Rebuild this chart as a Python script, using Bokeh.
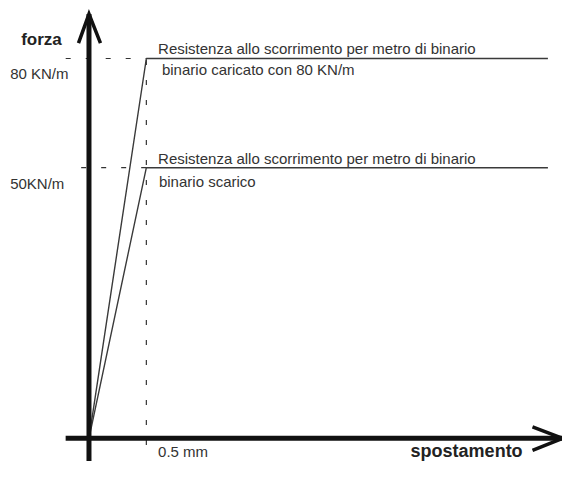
from bokeh.plotting import figure
from bokeh.models import Range1d
from bokeh.core.properties import value
from bokeh.embed import file_html
from bokeh.resources import INLINE

# ---- data (schematic diagram) ----
yield_disp = 0.5            # mm, displacement at which full resistance is reached
disp_end = 4.0              # mm, end of the plateau lines
level_labels = ["80 KN/m", "50KN/m"]
level_heights = [80, 57]    # drawn heights (schematic, as in the picture)
guide_start = [-0.203, -0.068]
curve_titles = ["Resistenza allo scorrimento per metro di binario",
                "Resistenza allo scorrimento per metro di binario"]
curve_subtitles = ["binario caricato con 80 KN/m", "binario scarico"]
x_tick_label = "0.5 mm"
x_label = "spostamento"
y_label = "forza"

# ---- layout ----
W, H = 562, 461
sx, sy = W / 578.0, H / 477.0
px_x = 118.0 * sx      # pixels per mm
px_y = 4.9125 * sy     # pixels per unit of force
ox, oy = 91 * sx, 453 * sy      # origin position on canvas
x0, x1 = -ox / px_x, (W - ox) / px_x
y0, y1 = -(H - oy) / px_y, oy / px_y

p = figure(width=W, height=H, x_range=Range1d(x0, x1), y_range=Range1d(y0, y1),
           output_backend="svg", toolbar_location=None,
           x_axis_type=None, y_axis_type=None, min_border=0,
           outline_line_color=None, background_fill_color="white",
           border_fill_color="white")

FONT = value("Liberation Sans")
INK = "#333333"

# dashed guides
for h, g in zip(level_heights, guide_start):
    p.line([g, yield_disp], [h, h], line_color=INK, line_width=1.2, line_dash="5 15")
p.line([yield_disp, yield_disp], [-7 / 4.9125, level_heights[0]], line_color=INK,
       line_width=1.2, line_dash="5 15")

# force-displacement curves
for h in level_heights:
    p.line([0, yield_disp, disp_end], [0, h, h], line_color="#3a3a3a", line_width=1.4)

# axes with open arrow heads
y_tip = 439 / 4.9125
x_tip = 487 / 118.0
AX = "#111111"
p.line([0, 0], [y0 - 5, y_tip], line_color=AX, line_width=5)
p.line([-24 / 118.0, x_tip], [0, 0], line_color=AX, line_width=5)
p.line([-10.5 / px_x, 0, 11.5 / px_x], [y_tip - 29 / px_y, y_tip, y_tip - 29 / px_y],
       line_color=AX, line_width=3.5, line_join="miter")
p.line([x_tip - 30 / px_x, x_tip, x_tip - 30 / px_x], [11.5 / px_y, 0, -12 / px_y],
       line_color=AX, line_width=3.5, line_join="miter")

# texts
reg = dict(text_font=FONT, text_font_size=value("15px"), text_color=INK,
           text_baseline="alphabetic")
bold = dict(text_font=FONT, text_color="#222222",
            text_font_style="bold", text_baseline="alphabetic")

DY = -5   # renderer places baselines a few pixels lower than requested

def ofx(v):
    return round(v * sx, 1)

def ofy(v):
    return round(v * sy + DY, 1)

p.text(x=[0, 0], y=level_heights, text=level_labels, x_offset=[ofx(-81)] * 2,
       y_offset=[ofy(21), ofy(22)], text_align="left", **reg)
p.text(x=[yield_disp] * 2, y=level_heights, text=curve_titles, x_offset=[ofx(12)] * 2,
       y_offset=[ofy(-5), ofy(-4)], text_align="left", **reg)
p.text(x=[yield_disp] * 2, y=level_heights, text=curve_subtitles,
       x_offset=[ofx(16), ofx(13)], y_offset=[ofy(17), ofy(19)], text_align="left", **reg)
p.text(x=[yield_disp], y=[0], text=[x_tick_label], x_offset=ofx(12), y_offset=ofy(19),
       text_align="left", **reg)
p.text(x=[disp_end], y=[0], text=[x_label], x_offset=ofx(-26), y_offset=ofy(18),
       text_align="right", text_font_size=value("18px"), **bold)
p.text(x=[0], y=[y_tip], text=[y_label], x_offset=ofx(-28), y_offset=ofy(32),
       text_align="right", text_font_size=value("17px"), **bold)

open("out.html", "w").write(file_html(p, INLINE))
